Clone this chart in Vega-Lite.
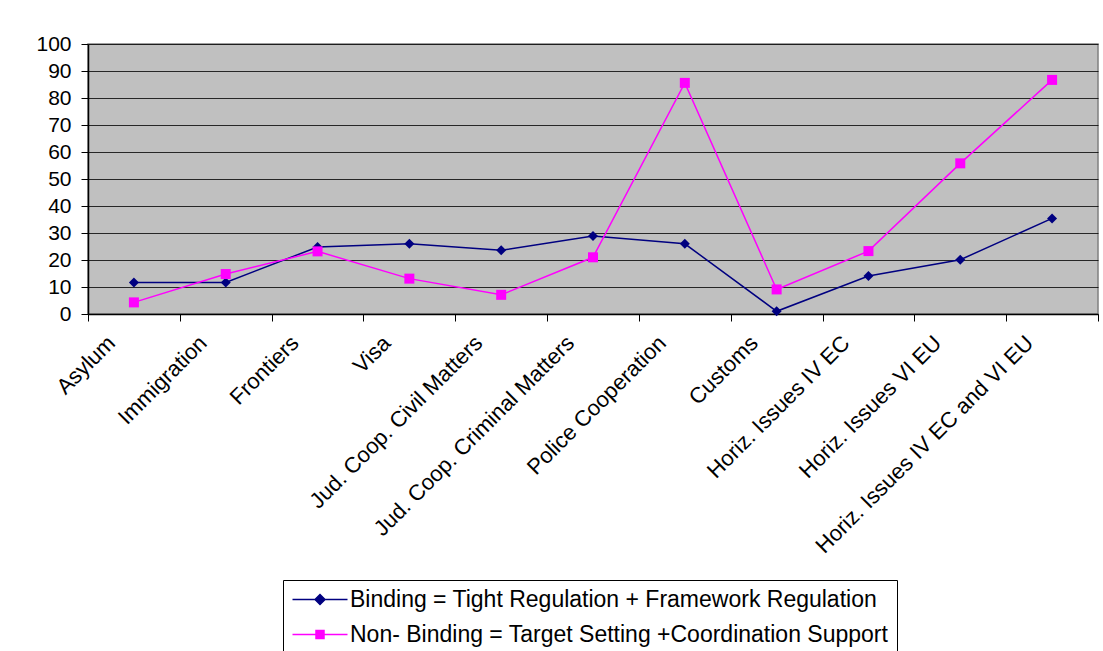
{
  "$schema": "https://vega.github.io/schema/vega-lite/v6.json",
  "width": 1010,
  "height": 270,
  "autosize": "none",
  "padding": {"left": 88, "top": 44, "right": 5, "bottom": 337},
  "background": "white",
  "config": {
    "view": {"fill": "#C0C0C0", "stroke": "#808080", "strokeWidth": 1.5},
    "font": "Liberation Sans",
    "axis": {"labelFont": "Liberation Sans", "labelColor": "black", "domainColor": "black", "tickColor": "black", "title": null}
  },
  "data": {
    "values": [
      {"cat": "Asylum", "series": "Binding = Tight Regulation + Framework Regulation", "v": 11.7},
      {"cat": "Immigration", "series": "Binding = Tight Regulation + Framework Regulation", "v": 11.7},
      {"cat": "Frontiers", "series": "Binding = Tight Regulation + Framework Regulation", "v": 24.8},
      {"cat": "Visa", "series": "Binding = Tight Regulation + Framework Regulation", "v": 26.0},
      {"cat": "Jud. Coop. Civil Matters", "series": "Binding = Tight Regulation + Framework Regulation", "v": 23.6},
      {"cat": "Jud. Coop. Criminal Matters", "series": "Binding = Tight Regulation + Framework Regulation", "v": 28.9},
      {"cat": "Police Cooperation", "series": "Binding = Tight Regulation + Framework Regulation", "v": 26.0},
      {"cat": "Customs", "series": "Binding = Tight Regulation + Framework Regulation", "v": 1.0},
      {"cat": "Horiz. Issues IV EC", "series": "Binding = Tight Regulation + Framework Regulation", "v": 14.1},
      {"cat": "Horiz. Issues VI EU", "series": "Binding = Tight Regulation + Framework Regulation", "v": 20.1},
      {"cat": "Horiz. Issues IV EC and VI EU", "series": "Binding = Tight Regulation + Framework Regulation", "v": 35.4},
      {"cat": "Asylum", "series": "Non- Binding = Target Setting +Coordination Support", "v": 4.3},
      {"cat": "Immigration", "series": "Non- Binding = Target Setting +Coordination Support", "v": 14.8},
      {"cat": "Frontiers", "series": "Non- Binding = Target Setting +Coordination Support", "v": 23.2},
      {"cat": "Visa", "series": "Non- Binding = Target Setting +Coordination Support", "v": 13.1},
      {"cat": "Jud. Coop. Civil Matters", "series": "Non- Binding = Target Setting +Coordination Support", "v": 7.1},
      {"cat": "Jud. Coop. Criminal Matters", "series": "Non- Binding = Target Setting +Coordination Support", "v": 21.0},
      {"cat": "Police Cooperation", "series": "Non- Binding = Target Setting +Coordination Support", "v": 85.6},
      {"cat": "Customs", "series": "Non- Binding = Target Setting +Coordination Support", "v": 9.1},
      {"cat": "Horiz. Issues IV EC", "series": "Non- Binding = Target Setting +Coordination Support", "v": 23.3},
      {"cat": "Horiz. Issues VI EU", "series": "Non- Binding = Target Setting +Coordination Support", "v": 55.8},
      {"cat": "Horiz. Issues IV EC and VI EU", "series": "Non- Binding = Target Setting +Coordination Support", "v": 86.7}
    ]
  },
  "encoding": {
    "x": {
      "field": "cat", "type": "nominal", "sort": null, "bandPosition": 0.5,
      "scale": {"type": "band", "paddingInner": 0, "paddingOuter": 0},
      "axis": {"tickBand": "extent", "grid": false, "labelAngle": -45, "labelAlign": "right", "labelBaseline": "top", "labelFontSize": 22, "tickSize": 7, "labelPadding": 11, "labelOffset": -30, "domainWidth": 1.5, "labelLimit": 400}
    },
    "y": {
      "field": "v", "type": "quantitative",
      "scale": {"domain": [0, 100], "nice": false},
      "axis": {"values": [0,10,20,30,40,50,60,70,80,90,100], "gridColor": "black", "gridOpacity": 0.8, "labelFontSize": 21, "tickSize": 7, "labelPadding": 10, "domainWidth": 1.5}
    },
    "color": {
      "field": "series", "type": "nominal",
      "scale": {"range": ["#000080", "#FF00FF"]},
      "legend": {
        "title": null, "orient": "none", "legendX": 195, "legendY": 536,
        "direction": "vertical",
        "strokeColor": "black", "fillColor": "white", "padding": 8,
        "labelFontSize": 23, "labelFont": "Liberation Sans", "labelColor": "black", "labelLimit": 800,
        "symbolSize": 400, "rowPadding": 11, "labelOffset": 36,
        "symbolStrokeWidth": 1.5,
        "encode": {
          "symbols": {
            "update": {
              "shape": {"signal": "datum.value == 'Binding = Tight Regulation + Framework Regulation' ? 'M-1,0H1.25L1.75,-0.5L2.25,0L1.75,0.5L1.25,0ZM2.25,0H4.5' : 'M-1,0H1.35V-0.4H2.15V0.4H1.35V0ZM2.15,0H4.5'"},
              "stroke": {"scale": "color", "field": "value"},
              "fill": {"scale": "color", "field": "value"},
              "fillOpacity": {"value": 1},
              "strokeWidth": {"value": 1.5}
            }
          }
        }
      }
    }
  },
  "layer": [
    {"mark": {"type": "line", "strokeWidth": 1.5}},
    {
      "mark": {"type": "point", "filled": true, "opacity": 1, "size": 100},
      "encoding": {
        "shape": {"field": "series", "type": "nominal", "scale": {"range": ["diamond", "square"]}, "legend": null}
      }
    }
  ]
}
